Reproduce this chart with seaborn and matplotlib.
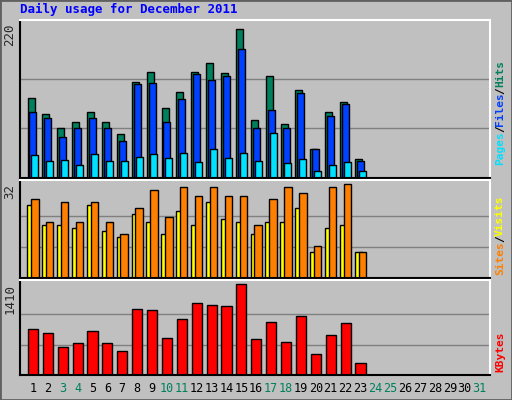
import numpy as np
import pandas as pd
import matplotlib
matplotlib.use("Agg")
import matplotlib.pyplot as plt
import seaborn as sns

days = np.arange(1, 24)
hits = [118, 94, 73, 82, 97, 83, 65, 142, 157, 103, 127, 157, 169, 155, 220, 85, 151, 79, 130, 43, 97, 112, 28]
files = [97, 88, 61, 74, 88, 73, 55, 139, 140, 82, 116, 154, 145, 151, 190, 73, 101, 74, 125, 43, 91, 109, 25]
pages = [34, 25, 26, 19, 35, 25, 25, 31, 35, 29, 37, 23, 43, 29, 37, 25, 67, 22, 28, 10, 19, 23, 11]
sites = [25, 18, 18, 17, 25, 16, 14, 22, 19, 15, 23, 18, 26, 20, 19, 15, 19, 19, 24, 9, 17, 18, 9]
visits = [27, 19, 26, 19, 26, 19, 15, 24, 30, 21, 31, 28, 31, 28, 28, 18, 27, 31, 29, 11, 31, 32, 9]
kbytes = [713, 651, 434, 496, 682, 496, 372, 1023, 1007, 573, 868, 1116, 1085, 1069, 1410, 558, 821, 511, 914, 325, 620, 806, 186]
weekend = [3, 4, 10, 11, 17, 18, 24, 25, 31]

sns.set_style("white")
plt.rcParams['font.family'] = ['DejaVu Sans Mono', 'DejaVu Sans']
BG = "#c0c0c0"
W, H = 512, 400
fig = plt.figure(figsize=(W / 100, H / 100), dpi=100, facecolor=BG)
fig.patches.append(plt.Rectangle((0, 0), 1, 1, transform=fig.transFigure,
                                 fill=False, edgecolor="#606060", lw=2))


def panel(top, bottom, ymax, series, label, maxval):
    ax = fig.add_axes([20 / W, 1 - bottom / H, 470 / W, (bottom - top) / H])
    ax.set_facecolor(BG)
    for off, vals, col, wd in series:
        df = pd.DataFrame({"x": days + off, "y": vals})
        sns.barplot(data=df, x="x", y="y", native_scale=True, color=col,
                    width=wd, saturation=1, edgecolor="black", linewidth=1, ax=ax)
    ax.set_xlim(0.13, 31.7)
    ax.set_ylim(0, ymax)
    for g in (maxval / 3, 2 * maxval / 3):
        ax.axhline(g, color="#808080", lw=1, zorder=0)
    ax.set_xticks([]); ax.set_yticks([])
    ax.set_xlabel(""); ax.set_ylabel("")
    for s in ax.spines.values():
        s.set_color("black"); s.set_linewidth(1.5)
    ax.spines["right"].set_color("white"); ax.spines["top"].set_color("white")
    fig.text(10 / W, 1 - (top + 4) / H, label, rotation=90, ha="center", va="top", fontsize=9)
    return ax


panel(20, 178, 233, [(-0.13, hits, "#00805c", 0.47), (0.0, files, "#0040ff", 0.47),
                     (0.13, pages, "#00e0ff", 0.47)], "220", 220)
panel(180, 278, 33.5, [(-0.13, sites, "#ffff00", 0.5), (0.13, visits, "#ff8000", 0.5)], "32", 32)
panel(280, 375, 1472, [(0.0, kbytes, "#ff0000", 0.68)], "1410", 1410)

fig.text(20 / W, 1 - 9 / H, "Daily usage for December 2011", color="#0000ff",
         fontweight="bold", fontsize=9, va="center")
for d in range(1, 32):
    fig.text((20 + (d - 0.13) * 470 / 31.57) / W, 1 - 388 / H, str(d), ha="center", va="center",
             fontsize=8.5, color="#00805c" if d in weekend else "black")


def right_label(ybot, parts):
    y = ybot
    for txt, col in parts:
        t = fig.text(500 / W, 1 - y / H, txt, rotation=90, ha="center", va="bottom",
                     fontsize=8, color=col, fontweight="bold")
        y -= len(txt) * 6.5


right_label(165, [("Pages", "#00e0ff"), ("/", "black"), ("Files", "#0040ff"), ("/", "black"), ("Hits", "#00805c")])
right_label(275, [("Sites", "#ff8000"), ("/", "black"), ("Visits", "#ffff00")])
right_label(372, [("KBytes", "#ff0000")])

fig.savefig("out.png", dpi=100, facecolor=BG)
